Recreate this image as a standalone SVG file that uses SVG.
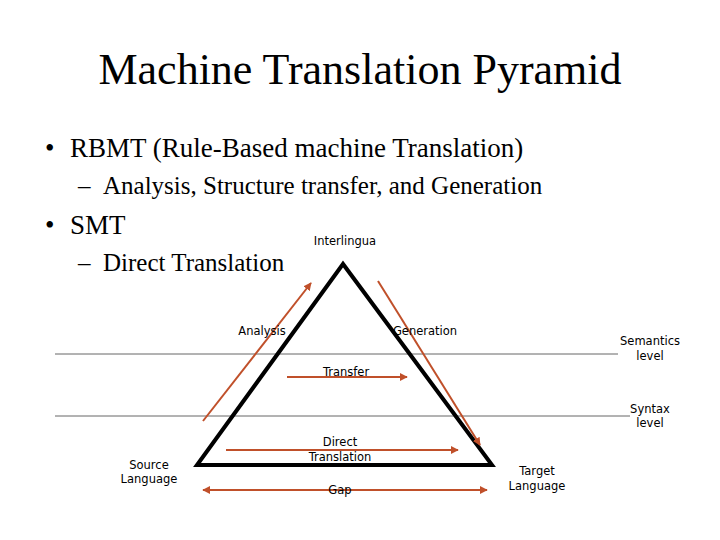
<svg xmlns="http://www.w3.org/2000/svg" width="720" height="540" viewBox="0 0 720 540">
<defs>
<style>
.s{font-family:"Liberation Serif",serif;fill:#000}
.l{font-family:"DejaVu Sans",sans-serif;font-size:11.5px;fill:#000;text-anchor:middle}
.a{stroke:#C0502A;stroke-width:2;fill:none}
</style>
<marker id="m" viewBox="0 0 10 10" refX="9" refY="5" markerWidth="4" markerHeight="4" orient="auto-start-reverse"><path d="M0,0L10,5L0,10z" fill="#C0502A"/></marker>
</defs>
<rect width="720" height="540" fill="#fff"/>
<text class="s" x="360" y="84" font-size="44" text-anchor="middle">Machine Translation Pyramid</text>
<text class="s" x="45" y="157" font-size="27">•</text><text class="s" x="70" y="157" font-size="27">RBMT (Rule-Based machine Translation)</text>
<text class="s" x="78" y="194" font-size="25">–</text><text class="s" x="103" y="194" font-size="25">Analysis, Structure transfer, and Generation</text>
<text class="s" x="45" y="234" font-size="27">•</text><text class="s" x="70" y="234" font-size="27">SMT</text>
<text class="s" x="78" y="271" font-size="25">–</text><text class="s" x="103" y="271" font-size="25">Direct Translation</text>
<g id="levels" stroke="#666" stroke-width="1">
<line x1="55" y1="354" x2="618" y2="354"/>
<line x1="55" y1="416" x2="630" y2="416"/>
</g>
<g id="pyramid"><polygon points="343,264 197,465 492,465" fill="none" stroke="#000" stroke-width="4"/></g>
<g id="connectors">
<line class="a" x1="203" y1="421" x2="311" y2="283" marker-end="url(#m)"/>
<line class="a" x1="378" y1="281" x2="480" y2="445" marker-end="url(#m)"/>
<line class="a" x1="287" y1="377" x2="407" y2="377" marker-end="url(#m)"/>
<line class="a" x1="226" y1="450" x2="458" y2="450" marker-end="url(#m)"/>
<line class="a" x1="203" y1="490" x2="487" y2="490" marker-start="url(#m)" marker-end="url(#m)"/>
</g>
<g id="labels">
<text class="l" x="345" y="245">Interlingua</text>
<text class="l" x="262" y="335">Analysis</text>
<text class="l" x="425" y="335">Generation</text>
<text class="l" x="346" y="376">Transfer</text>
<text class="l" x="650" y="345">Semantics</text>
<text class="l" x="650" y="360">level</text>
<text class="l" x="650" y="413">Syntax</text>
<text class="l" x="650" y="427">level</text>
<text class="l" x="340" y="446">Direct</text>
<text class="l" x="340" y="461">Translation</text>
<text class="l" x="149" y="469">Source</text>
<text class="l" x="149" y="483">Language</text>
<text class="l" x="537" y="475">Target</text>
<text class="l" x="537" y="490">Language</text>
<text class="l" x="340" y="494">Gap</text>
</g>
</svg>
